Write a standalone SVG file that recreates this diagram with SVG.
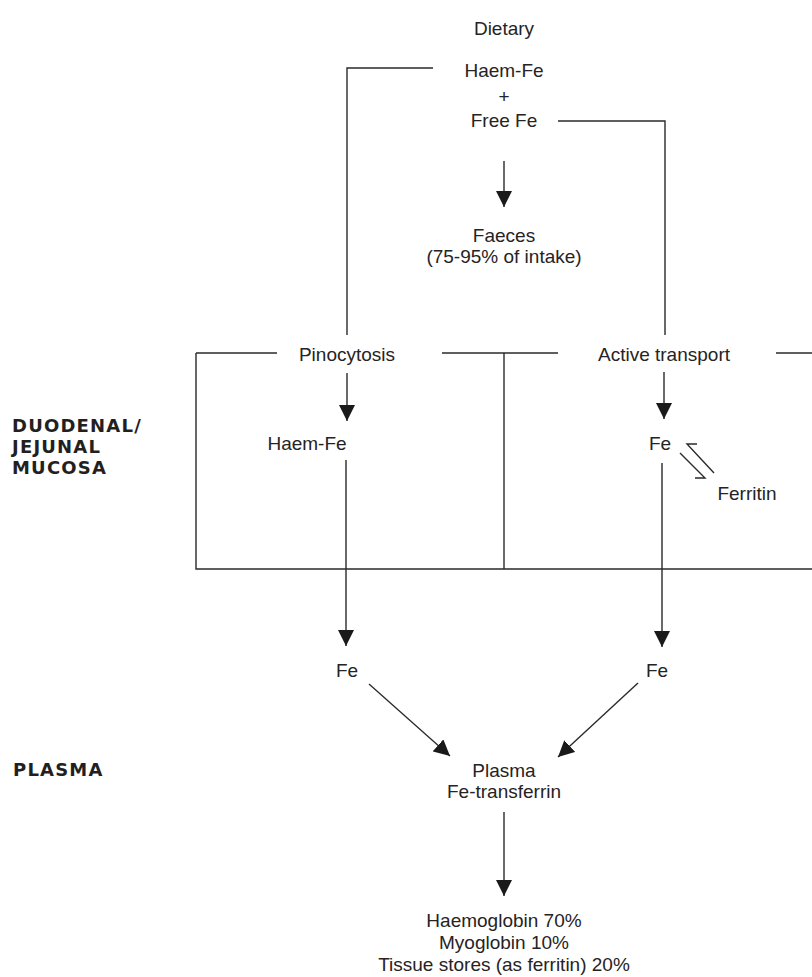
<svg xmlns="http://www.w3.org/2000/svg" width="812" height="977" viewBox="0 0 812 977">
<style>
.t{font-family:"Liberation Sans",Arial,sans-serif;font-size:19px;fill:#262324;text-anchor:middle}
.b{font-family:"DejaVu Sans",sans-serif;font-weight:bold;font-size:18px;letter-spacing:1.2px;fill:#231f20}
.l{stroke:#2a2a2a;stroke-width:1.4;fill:none}
</style>
<defs>
<marker id="ah" markerUnits="userSpaceOnUse" markerWidth="16" markerHeight="16" refX="16" refY="8" orient="auto">
<path d="M0,0 L16,8 L0,16 z" fill="#1a1a1a"/>
</marker>
</defs>
<rect width="812" height="977" fill="#fff"/>
<g id="connectors">
<polyline class="l" points="433,68 347,68 347,335"/>
<polyline class="l" points="558,121 665,121 665,335"/>
<line class="l" x1="504" y1="161" x2="504" y2="207" marker-end="url(#ah)"/>
<line class="l" x1="196" y1="353" x2="277" y2="353"/>
<line class="l" x1="442" y1="353" x2="558" y2="353"/>
<line class="l" x1="776" y1="353" x2="812" y2="353"/>
<polyline class="l" points="196,353 196,569 812,569"/>
<line class="l" x1="504" y1="353" x2="504" y2="569"/>
<line class="l" x1="347" y1="373" x2="347" y2="421" marker-end="url(#ah)"/>
<line class="l" x1="664" y1="372" x2="664" y2="419" marker-end="url(#ah)"/>
<line class="l" x1="346" y1="460" x2="346" y2="646" marker-end="url(#ah)"/>
<line class="l" x1="662" y1="463" x2="662" y2="647" marker-end="url(#ah)"/>
<polyline class="l" points="697,444 687,444 714,473"/>
<polyline class="l" points="680,453 705,478 695,478"/>
<line class="l" x1="369" y1="684" x2="450" y2="756" marker-end="url(#ah)"/>
<line class="l" x1="638" y1="683" x2="558" y2="757" marker-end="url(#ah)"/>
<line class="l" x1="504" y1="812" x2="504" y2="896" marker-end="url(#ah)"/>
</g>
<g id="dietary"><text class="t" x="504" y="35">Dietary</text></g>
<g id="intake">
<text class="t" x="504" y="77">Haem-Fe</text>
<text class="t" x="504" y="103">+</text>
<text class="t" x="504" y="127">Free Fe</text>
</g>
<g id="faeces">
<text class="t" x="504" y="242">Faeces<tspan x="504" dy="21">(75-95% of intake)</tspan></text>
</g>
<g id="pinocytosis"><text class="t" x="347" y="361">Pinocytosis</text></g>
<g id="active-transport"><text class="t" x="664" y="361">Active transport</text></g>
<g id="haem-fe-mucosa"><text class="t" x="307" y="450">Haem-Fe</text></g>
<g id="fe-mucosa"><text class="t" x="660" y="450">Fe</text></g>
<g id="ferritin"><text class="t" x="747" y="500">Ferritin</text></g>
<g id="fe-left"><text class="t" x="347" y="677">Fe</text></g>
<g id="fe-right"><text class="t" x="657" y="677">Fe</text></g>
<g id="plasma-transferrin">
<text class="t" x="504" y="777">Plasma<tspan x="504" dy="21">Fe-transferrin</tspan></text>
</g>
<g id="distribution">
<text class="t" x="504" y="927">Haemoglobin 70%<tspan x="504" dy="22">Myoglobin 10%</tspan><tspan x="504" dy="22">Tissue stores (as ferritin) 20%</tspan></text>
</g>
<g id="label-mucosa">
<text class="b" x="12" y="432">DUODENAL/<tspan x="12" dy="21">JEJUNAL</tspan><tspan x="12" dy="21">MUCOSA</tspan></text>
</g>
<g id="label-plasma"><text class="b" x="13" y="776">PLASMA</text></g>
</svg>
